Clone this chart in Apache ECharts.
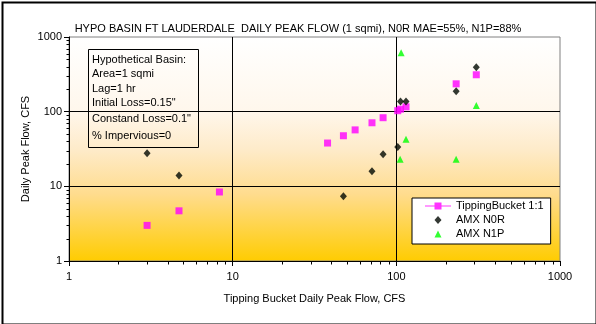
<!DOCTYPE html>
<html>
<head>
<meta charset="utf-8">
<script src="https://cdn.jsdelivr.net/npm/echarts@6/dist/echarts.min.js"></script>
<style>
html,body{margin:0;padding:0;background:#fff;}
#chart{width:596px;height:324px;}
</style>
</head>
<body>
<div id="chart"></div>
<script>
// ---- Data ----
var titleText = 'HYPO BASIN FT LAUDERDALE  DAILY PEAK FLOW (1 sqmi), N0R MAE=55%, N1P=88%';
var xAxisName = 'Tipping Bucket Daily Peak Flow, CFS';
var yAxisName = 'Daily Peak Flow, CFS';
var seriesNames = ['TippingBucket 1:1', 'AMX N0R', 'AMX N1P'];

var tbX = [3.0, 4.7, 8.3, 38, 47.5, 56, 71, 83, 102, 106, 114.6, 232, 308];
var tbY = [3.0, 4.7, 8.4, 38, 47.6, 57, 71, 83, 103, 108, 116, 236, 312];

var n0rX = [3.0, 4.7, 47.5, 71, 83, 102, 106, 114.6, 232, 308];
var n0rY = [27.7, 14.0, 7.35, 15.9, 26.8, 33.6, 137, 137, 187, 392];

var n1pX = [107, 114.6, 105.5, 232, 308];
var n1pY = [615, 42.6, 23.0, 23.0, 121];

var minorTickValues = [2,3,4,5,6,7,8,9,20,30,40,50,60,70,80,90,200,300,400,500,600,700,800,900];

var basinNotes = ['Hypothetical Basin:', 'Area=1 sqmi', 'Lag=1 hr', 'Initial Loss=0.15"', 'Constand Loss=0.1"', '% Impervious=0'];

function pairs(xs, ys) { return xs.map(function (x, i) { return [x, ys[i]]; }); }
function plainLabel(v) { return String(Math.round(v)); }

var FONT = '"Liberation Sans", Arial, sans-serif';
var chart = echarts.init(document.getElementById('chart'), null, {renderer: 'canvas'});

var noteTops = [54, 68, 83, 97, 113, 130];
var noteGraphics = basinNotes.map(function (t, i) {
  return {type: 'text', left: 92, top: noteTops[i], z: 100,
    style: {text: t, fill: '#000', font: '11px ' + FONT}};
});

var option = {
  animation: false,
  backgroundColor: '#fff',
  title: {
    text: titleText, left: 'center', top: 18,
    textStyle: {fontFamily: FONT, fontSize: 11, fontWeight: 'normal', color: '#000'}
  },
  grid: {
    left: 69, top: 37, width: 491, height: 224,
    show: true, borderColor: '#808080', borderWidth: 1,
    backgroundColor: {
      type: 'linear', x: 0, y: 0, x2: 0, y2: 1,
      colorStops: [
        {offset: 0, color: '#FFFFFF'},
        {offset: 0.33, color: '#FFF7EC'},
        {offset: 0.5, color: '#FEEBCA'},
        {offset: 0.7, color: '#FFDC8E'},
        {offset: 1, color: '#FFCC00'}
      ]
    }
  },
  legend: {
    orient: 'vertical', left: 412, top: 198,
    backgroundColor: '#fff', borderColor: '#000', borderWidth: 1, borderRadius: 0,
    padding: [2, 7, 4, 13],
    itemWidth: 26, itemHeight: 8, itemGap: 2,
    textStyle: {fontFamily: FONT, fontSize: 11, color: '#000', lineHeight: 12},
    data: [
      {name: seriesNames[0], icon: 'path://M0,3.5H26V4.5H0Z M9.5,0.5H16.5V7.5H9.5Z'},
      {name: seriesNames[1], icon: 'path://M0,0L26,8M13,0L16.5,4L13,8L9.5,4Z'},
      {name: seriesNames[2], icon: 'path://M0,0L26,8M13,0.5L16.5,7.5L9.5,7.5Z'}
    ]
  },
  xAxis: {
    type: 'log', logBase: 10, min: 1, max: 1000, splitNumber: 3,
    name: xAxisName, nameLocation: 'middle', nameGap: 32, nameMoveOverlap: false,
    nameTextStyle: {fontFamily: FONT, fontSize: 11, color: '#000'},
    axisLine: {show: true, lineStyle: {color: '#000', width: 1}},
    axisTick: {show: true, inside: false, length: 5, lineStyle: {color: '#000'}},
    axisLabel: {fontFamily: FONT, fontSize: 11, color: '#000', margin: 10, formatter: plainLabel},
    splitLine: {show: true, showMinLine: false, showMaxLine: false, lineStyle: {color: '#000', width: 1}}
  },
  yAxis: {
    type: 'log', logBase: 10, min: 1, max: 1000, splitNumber: 3,
    name: yAxisName, nameLocation: 'middle', nameGap: 38, nameRotate: 90, nameMoveOverlap: false,
    nameTextStyle: {fontFamily: FONT, fontSize: 11, color: '#000'},
    axisLine: {show: true, lineStyle: {color: '#000', width: 1}},
    axisTick: {show: true, inside: false, length: 5, lineStyle: {color: '#000'}},
    axisLabel: {fontFamily: FONT, fontSize: 11, color: '#000', margin: 7, formatter: plainLabel},
    splitLine: {show: true, showMinLine: false, showMaxLine: false, lineStyle: {color: '#000', width: 1}}
  },
  series: [
    {
      type: 'custom', name: 'minorTicks', silent: true, clip: false, z: 1,
      data: [[1, 1]],
      renderItem: function (params, api) {
        var o = api.coord([1, 1]);
        var bx = Math.round(o[0]) + 0.5, by = Math.round(o[1]) + 0.5;
        var children = [];
        minorTickValues.forEach(function (v) {
          var px = Math.round(api.coord([v, 1])[0]) + 0.5;
          children.push({type: 'line', shape: {x1: px, y1: by, x2: px, y2: by + 3}, style: {stroke: '#000', lineWidth: 1}});
          var py = Math.round(api.coord([1, v])[1]) + 0.5;
          children.push({type: 'line', shape: {x1: bx - 3, y1: py, x2: bx, y2: py}, style: {stroke: '#000', lineWidth: 1}});
        });
        return {type: 'group', children: children};
      }
    },
    {
      name: seriesNames[0], type: 'scatter', symbol: 'rect', symbolSize: 7, z: 3,
      itemStyle: {color: '#FF00FF'},
      data: pairs(tbX, tbY)
    },
    {
      name: seriesNames[1], type: 'scatter', symbol: 'diamond', symbolSize: [7, 8], z: 4,
      itemStyle: {color: '#000800'},
      data: pairs(n0rX, n0rY)
    },
    {
      name: seriesNames[2], type: 'scatter', symbol: 'triangle', symbolSize: 7, z: 4,
      itemStyle: {color: '#00FF00'},
      data: pairs(n1pX, n1pY)
    }
  ],
  graphic: [
    {type: 'rect', left: 0, top: 0, z: 200, silent: true,
      shape: {x: 1, y: 1, width: 594, height: 322},
      style: {fill: 'none', stroke: '#000', lineWidth: 2}},
    {type: 'rect', z: 100, silent: true,
      shape: {x: 88.5, y: 49.5, width: 110, height: 98},
      style: {fill: 'none', stroke: '#000', lineWidth: 1}}
  ].concat(noteGraphics)
};
chart.setOption(option);
</script>
</body>
</html>
